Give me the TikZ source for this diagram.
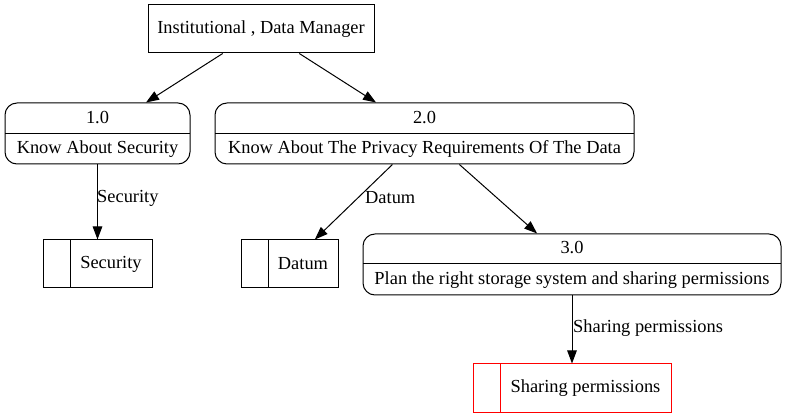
\documentclass[tikz,border=0pt]{standalone}
\usepackage{fontspec}
\setmainfont{Liberation Serif}
\usetikzlibrary{arrows.meta}
\begin{document}
\begin{tikzpicture}[x=1pt,y=-1pt,
  every node/.style={font=\fontsize{18.4pt}{21pt}\selectfont, inner sep=0pt},
  ext/.style={draw, line width=1pt, minimum width=226pt, minimum height=48pt},
  proc/.style={draw, line width=1pt, rounded corners=12pt, minimum height=61pt},
  store/.style={draw, line width=1pt, minimum height=48pt},
  flow/.style={line width=1pt, -{Triangle[length=13pt,width=9.5pt]}},
  lbl/.style={anchor=west}
]
\useasboundingbox (0,0) rectangle (787,419);
% external entity
\node[ext] (top) at (261,29) {};
\node at (261,29) {Institutional , Data Manager};
% processes
\node[proc, minimum width=185pt] (p1) at (97.5,133.5) {};
\draw[line width=1pt] (5,134) -- (190,134);
\node at (97.5,118) {1.0};
\node at (97.5,149) {Know About Security};
\node[proc, minimum width=419pt] (p2) at (424.5,133.5) {};
\draw[line width=1pt] (215,134) -- (634,134);
\node at (424.5,118) {2.0};
\node at (424.5,149) {Know About The Privacy Requirements Of The Data};
\node[proc, minimum width=418pt] (p3) at (572,264.5) {};
\draw[line width=1pt] (363,264) -- (781,264);
\node at (572,248) {3.0};
\node at (572,280) {Plan the right storage system and sharing permissions};
% data stores
\node[store, minimum width=109pt] (s1) at (97.5,264) {};
\draw[line width=1pt] (70,240) -- (70,288);
\node at (111,264) {Security};
\node[store, minimum width=97pt] (s2) at (289.5,264) {};
\draw[line width=1pt] (268,240) -- (268,288);
\node at (303,264) {Datum};
\node[store, minimum width=198pt, draw=red] (s3) at (572,388) {};
\draw[line width=1pt, red] (500,364) -- (500,412);
\node at (585.5,388) {Sharing permissions};
% flows
\draw[flow] (top) -- (p1);
\draw[flow] (top) -- (p2);
\draw[flow] (p1) -- (s1);
\node[lbl] at (97,198) {Security};
\draw[flow] (p2) -- (s2);
\node[lbl] at (365,198) {Datum};
\draw[flow] (p2) -- (p3);
\draw[flow] (p3) -- (s3);
\node[lbl] at (573,328) {Sharing permissions};
\end{tikzpicture}
\end{document}
